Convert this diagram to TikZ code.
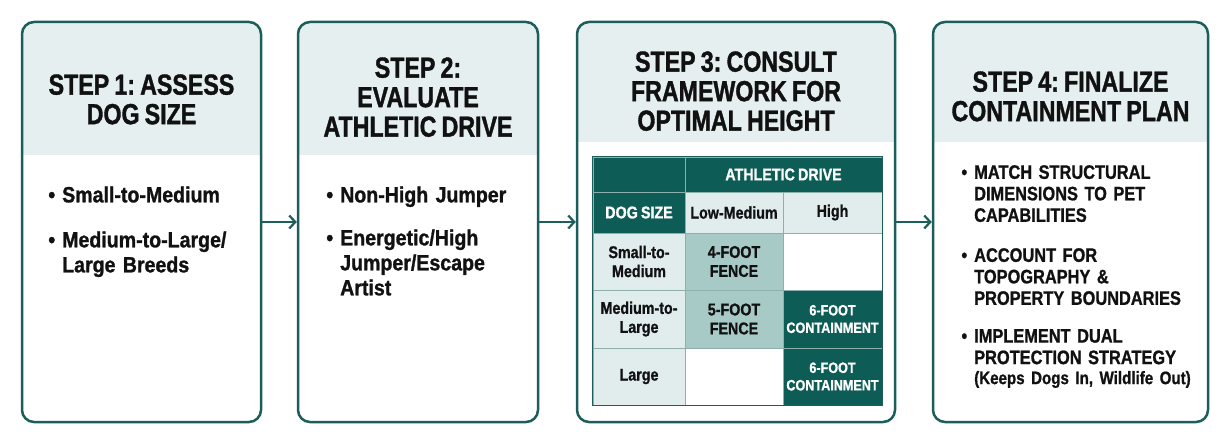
\documentclass[tikz,border=0pt]{standalone}
\usepackage{fontspec}
\setmainfont{Liberation Sans}
\newfontfamily\hfont[FakeStretch=0.80,WordSpace=0.8,FakeBold=1.2]{Liberation Sans}
\newfontfamily\bfont[FakeStretch=0.89,WordSpace=0.8,FakeBold=1.2]{Liberation Sans}
\newfontfamily\cfont[FakeStretch=0.84,WordSpace=0.8,FakeBold=1.0]{Liberation Sans}
\usetikzlibrary{arrows.meta}
\definecolor{tealline}{HTML}{1B5E5A}
\definecolor{hdrfill}{HTML}{E5EFEF}
\definecolor{darkcell}{HTML}{0D5C55}
\definecolor{lightcell}{HTML}{E1EDED}
\definecolor{midcell}{HTML}{A8CAC6}
\definecolor{gridc}{HTML}{8DB0AC}
\definecolor{ink}{HTML}{111111}
\frenchspacing
\begin{document}
\begin{tikzpicture}[x=1pt,y=-1pt,
  stepbox/.style={draw=tealline, line width=2.5pt, rounded corners=12pt, inner sep=0pt},
  hdrtext/.style={anchor=north, inner sep=0pt, align=center, text=ink,
    font=\frenchspacing\hfont\bfseries\fontsize{29}{29.5}\selectfont},
  bitem/.style={anchor=north west, inner sep=0pt, align=left, text=ink, text width=190pt,
    font=\frenchspacing\bfont\bfseries\fontsize{22}{25}\selectfont},
  citem/.style={anchor=north west, inner sep=0pt, align=left, text=ink, text width=228pt,
    font=\frenchspacing\cfont\bfseries\fontsize{19.5}{21.5}\selectfont},
  cell/.style={draw=gridc, line width=1pt, inner sep=0pt, align=center, text=ink,
    font=\cfont\bfseries\fontsize{17}{19}\selectfont},
  dcell/.style={cell, fill=darkcell, text=white},
  lcell/.style={cell, fill=lightcell},
  mcell/.style={cell, fill=midcell},
  wcell/.style={cell, fill=white},
  small/.style={font=\cfont\bfseries\fontsize{15}{17.5}\selectfont},
  conn/.style={draw=tealline, line width=2.2pt, -{Straight Barb[length=6pt,width=13pt]}}
]
\useasboundingbox (0,0) rectangle (1230,444);

% header fills
\begin{scope}
\clip[rounded corners=12pt] (22,22) rectangle (261,422);
\fill[hdrfill] (22,22) rectangle (261,155);
\end{scope}
\begin{scope}
\clip[rounded corners=12pt] (298,22) rectangle (538,422);
\fill[hdrfill] (298,22) rectangle (538,155);
\end{scope}
\begin{scope}
\clip[rounded corners=12pt] (577,22) rectangle (895,422);
\fill[hdrfill] (577,22) rectangle (895,142);
\end{scope}
\begin{scope}
\clip[rounded corners=12pt] (933,22) rectangle (1208,422);
\fill[hdrfill] (933,22) rectangle (1208,142);
\end{scope}

% boxes
\node[stepbox, minimum width=239pt, minimum height=400pt] (b1) at (141.5,222) {};
\node[stepbox, minimum width=240pt, minimum height=400pt] (b2) at (418,222) {};
\node[stepbox, minimum width=318pt, minimum height=400pt] (b3) at (736,222) {};
\node[stepbox, minimum width=275pt, minimum height=400pt] (b4) at (1070.5,222) {};

% headers
\node[hdrtext] (h1) at (141.5,74.2) {STEP 1: ASSESS\\DOG SIZE};
\node[hdrtext] (h2) at (418,57.2) {STEP 2:\\EVALUATE\\ATHLETIC DRIVE};
\node[hdrtext] (h3) at (736,51.2) {STEP 3: CONSULT\\FRAMEWORK FOR\\OPTIMAL HEIGHT};
\node[hdrtext] (h4) at (1070.5,71.2) {STEP 4: FINALIZE\\CONTAINMENT PLAN};

% box 1 bullets
\node[bitem] (i11) at (62,186.2) {\llap{\textbullet\hspace{7pt}}Small-to-Medium};
\node[bitem] (i12) at (62,231.2) {\llap{\textbullet\hspace{7pt}}Medium-to-Large/\\Large Breeds};
% box 2 bullets
\node[bitem] (i21) at (340,186.2) {\llap{\textbullet\hspace{7pt}}Non-High Jumper};
\node[bitem] (i22) at (340,229.2) {\llap{\textbullet\hspace{7pt}}Energetic/High\\Jumper/Escape\\Artist};
% box 4 bullets
\node[citem] (i41) at (974,165) {\llap{\textbullet\hspace{7pt}}MATCH STRUCTURAL\\DIMENSIONS TO PET\\CAPABILITIES};
\node[citem] (i42) at (974,248) {\llap{\textbullet\hspace{7pt}}ACCOUNT FOR\\TOPOGRAPHY \&\\PROPERTY BOUNDARIES};
\node[citem] (i43) at (974,329) {\llap{\textbullet\hspace{7pt}}IMPLEMENT DUAL\\PROTECTION STRATEGY\\[-1.5pt]{\fontsize{18}{20}\selectfont (Keeps Dogs In, Wildlife Out)}};

% table
\node[dcell, minimum width=92pt, minimum height=35pt] (t00) at (639,174.5) {};
\node[dcell, minimum width=197pt, minimum height=35pt] (tad) at (783.5,174.5) {ATHLETIC DRIVE};
\node[dcell, minimum width=92pt, minimum height=41pt] (t10) at (639,212.5) {DOG SIZE};
\node[lcell, minimum width=98pt, minimum height=41pt] (t11) at (734,212.5) {Low-Medium};
\node[lcell, minimum width=99pt, minimum height=41pt] (t12) at (832.5,212.5) {High};
\node[lcell, minimum width=92pt, minimum height=57pt] (t20) at (639,261.5) {Small-to-\\Medium};
\node[mcell, minimum width=98pt, minimum height=57pt] (t21) at (734,261.5) {4-FOOT\\FENCE};
\node[wcell, minimum width=99pt, minimum height=57pt] (t22) at (832.5,261.5) {};
\node[lcell, minimum width=92pt, minimum height=58pt] (t30) at (639,319) {Medium-to-\\Large};
\node[mcell, minimum width=98pt, minimum height=58pt] (t31) at (734,319) {5-FOOT\\FENCE};
\node[dcell, small, minimum width=99pt, minimum height=58pt] (t32) at (832.5,319) {6-FOOT\\CONTAINMENT};
\node[lcell, minimum width=92pt, minimum height=57pt] (t40) at (639,376.5) {Large};
\node[wcell, minimum width=98pt, minimum height=57pt] (t41) at (734,376.5) {};
\node[dcell, small, minimum width=99pt, minimum height=57pt] (t42) at (832.5,376.5) {6-FOOT\\CONTAINMENT};
\draw[tealline, line width=1.2pt] (t00.north west) rectangle (t42.south east);

% connectors
\draw[conn] (b1.east) -- (b2.west);
\draw[conn] (b2.east) -- (b3.west);
\draw[conn] (b3.east) -- (b4.west);
\end{tikzpicture}
\end{document}
